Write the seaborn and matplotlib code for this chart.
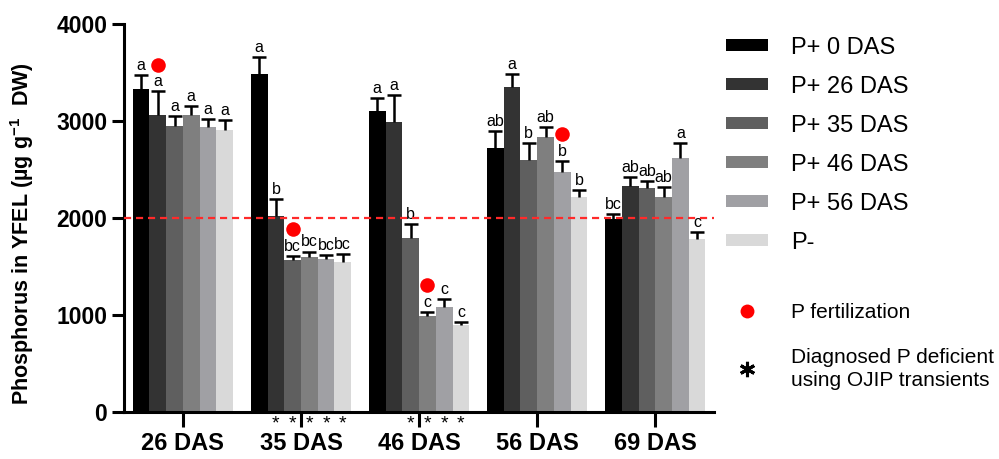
import matplotlib
matplotlib.use("Agg")
import matplotlib.pyplot as plt
import matplotlib.transforms as mtransforms
from matplotlib.patches import Patch
from matplotlib.lines import Line2D
import numpy as np
import pandas as pd
import seaborn as sns

groups = ['26 DAS', '35 DAS', '46 DAS', '56 DAS', '69 DAS']
treatments = ['P+ 0 DAS', 'P+ 26 DAS', 'P+ 35 DAS', 'P+ 46 DAS', 'P+ 56 DAS', 'P-']
colors = ['#000000', '#333333', '#5f5f5f', '#7f7f7f', '#a0a0a4', '#d9d9d9']

# mean P per treatment, one value per sampling date
p0 = [3330, 3485, 3100, 2725, 1990]
p26 = [3065, 2025, 2990, 3345, 2335]
p35 = [2950, 1570, 1790, 2600, 2310]
p46 = [3065, 1600, 990, 2830, 2220]
p56 = [2935, 1580, 1085, 2475, 2615]
pminus = [2910, 1550, 900, 2220, 1785]

# upper error (SE)
e0 = [145, 170, 140, 175, 55]
e26 = [240, 170, 280, 140, 85]
e35 = [100, 35, 150, 170, 70]
e46 = [90, 55, 40, 110, 95]
e56 = [85, 35, 85, 115, 160]
eminus = [100, 80, 25, 70, 75]

# significance letters
l0 = ['a', 'a', 'a', 'ab', 'bc']
l26 = ['a', 'b', 'a', 'a', 'ab']
l35 = ['a', 'bc', 'b', 'b', 'ab']
l46 = ['a', 'bc', 'c', 'ab', 'ab']
l56 = ['a', 'bc', 'c', 'b', 'a']
lminus = ['a', 'bc', 'c', 'b', 'c']

# P fertilization events (date, treatment, marker height)
fert_group = ['26 DAS', '35 DAS', '46 DAS', '56 DAS']
fert_treat = ['P+ 26 DAS', 'P+ 35 DAS', 'P+ 46 DAS', 'P+ 56 DAS']
fert_y = [3580, 1885, 1305, 2865]

# diagnosed P deficient with OJIP
def_group = ['35 DAS'] * 5 + ['46 DAS'] * 4
def_treat = ['P+ 26 DAS', 'P+ 35 DAS', 'P+ 46 DAS', 'P+ 56 DAS', 'P-',
             'P+ 35 DAS', 'P+ 46 DAS', 'P+ 56 DAS', 'P-']

means = [p0, p26, p35, p46, p56, pminus]
errs = [e0, e26, e35, e46, e56, eminus]
letters = [l0, l26, l35, l46, l56, lminus]

df = pd.DataFrame({
    'group': np.tile(groups, len(treatments)),
    'treatment': np.repeat(treatments, len(groups)),
    'value': np.concatenate(means),
})

sns.set_style('ticks')
plt.rcParams['font.family'] = ['Liberation Sans', 'DejaVu Sans']
plt.rcParams['mathtext.fontset'] = 'custom'
plt.rcParams['mathtext.rm'] = 'Liberation Sans:bold'
plt.rcParams['mathtext.bf'] = 'Liberation Sans:bold'
for k in ['text.color', 'axes.labelcolor', 'xtick.color', 'ytick.color',
          'axes.edgecolor']:
    plt.rcParams[k] = 'black'

fig = plt.figure(figsize=(9.99, 4.59), dpi=100)
ax = fig.add_axes([0.124, 0.102, 0.591, 0.846])

sns.barplot(data=df, x='group', y='value', hue='treatment', order=groups,
            hue_order=treatments, palette=colors, width=0.85, saturation=1,
            errorbar=None, legend=False, ax=ax)

bar_conts = list(ax.containers)
centers = {}
for ti, cont in enumerate(bar_conts):
    for gi, bar in enumerate(cont):
        bar.set_edgecolor('none')
        xc = bar.get_x() + bar.get_width() / 2
        h = bar.get_height()
        top = h + errs[ti][gi]
        centers[(groups[gi], treatments[ti])] = xc
        eb = ax.errorbar(xc, h, yerr=[[0], [errs[ti][gi]]], fmt='none',
                         ecolor='black', elinewidth=1.8, capsize=5,
                         capthick=1.8, zorder=3)
        # keep only the upper cap
        for cap in eb[1]:
            if cap.get_ydata()[0] < top:
                cap.set_visible(False)
        ax.annotate(letters[ti][gi], (xc, top), xytext=(0, 1.5),
                    textcoords='offset points', ha='center', va='bottom',
                    fontsize=11.5)

ax.scatter([centers[(g, t)] for g, t in zip(fert_group, fert_treat)], fert_y,
           s=110, color='#ff0000', zorder=4, linewidths=0)

trans = mtransforms.blended_transform_factory(ax.transData, ax.transAxes)
for g, t in zip(def_group, def_treat):
    ax.text(centers[(g, t)], -0.008, '*', transform=trans, ha='center',
            va='top', fontsize=14)

ax.axhline(2000, color='#ff2a2a', ls=(0, (3.2, 2.2)), lw=1.6, zorder=5)

ax.set_ylim(0, 4000)
ax.set_xlim(-0.5, 4.5)
ax.set_yticks([0, 1000, 2000, 3000, 4000])
ax.set_xlabel('')
ax.set_ylabel(r'Phosphorus in YFEL (µg g$^{-1}$  DW)', fontsize=15.5,
              fontweight='bold')
ax.yaxis.set_label_coords(-0.148, 0.46)
sns.despine(ax=ax)
for s in ['left', 'bottom']:
    ax.spines[s].set_linewidth(2.2)
ax.tick_params(axis='y', width=2.2, length=9, pad=3, labelsize=16.5)
ax.tick_params(axis='x', width=2.2, length=11, pad=3, labelsize=17)
for lab in ax.get_xticklabels() + ax.get_yticklabels():
    lab.set_fontweight('bold')

handles = [Patch(facecolor=c, edgecolor='none') for c in colors]
leg1 = ax.legend(handles, treatments, loc='upper left',
                 bbox_to_anchor=(0.727, 0.92), bbox_transform=fig.transFigure,
                 frameon=False, fontsize=17, handlelength=1.76,
                 handleheight=0.43, handletextpad=0.99, labelspacing=0.72,
                 borderpad=0, borderaxespad=0)
ax.add_artist(leg1)

h2 = [Line2D([], [], ls='none', marker='o', color='#ff0000', ms=10, mew=0),
      Line2D([], [], ls='none', marker=(6, 2, 0), color='black', ms=11, mew=2.2)]
leg2 = ax.legend(h2, ['P fertilization', 'Diagnosed P deficient\nusing OJIP transients'],
                 loc='upper left', bbox_to_anchor=(0.727, 0.34),
                 bbox_transform=fig.transFigure, frameon=False, fontsize=15,
                 handlelength=2.0, handletextpad=1.12, labelspacing=1.25,
                 borderpad=0, borderaxespad=0)
leg2.get_texts()[1].set_linespacing(1.3)

fig.savefig('out.png', dpi=100)
